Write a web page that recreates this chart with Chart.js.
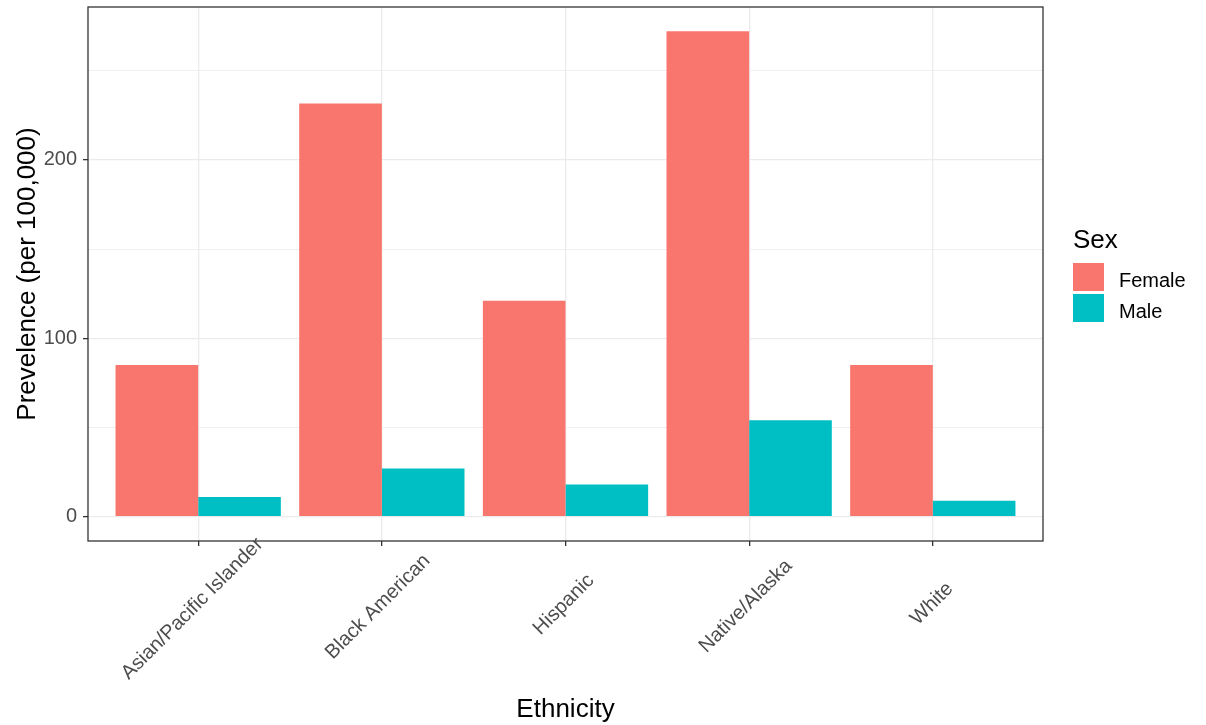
<!DOCTYPE html>
<html>
<head>
<meta charset="utf-8">
<script src="https://cdn.jsdelivr.net/npm/chart.js@4.4.1/dist/chart.umd.min.js"></script>
<style>
  html, body { margin: 0; padding: 0; background: #ffffff; }
  #c { display: block; }
</style>
</head>
<body>
<canvas id="c" width="1206" height="725"></canvas>
<script>
// ---- data ----
const categories = ["Asian/Pacific Islander", "Black American", "Hispanic", "Native/Alaska", "White"];
const femaleValues = [85, 231.5, 121, 272, 85];
const maleValues = [11, 27, 18, 54, 9];
const seriesNames = ["Female", "Male"];
const yTickValues = [0, 50, 100, 150, 200, 250];
const yLabelValues = [0, 100, 200];

const FONT = "'Liberation Sans', Arial, Helvetica, sans-serif";
const colors = ["#F8766D", "#00BFC4"];

const yMax = Math.max(...femaleValues, ...maleValues);
const yPad = yMax * 0.05;

const canvas = document.getElementById('c');

const customPlugin = {
  id: 'ggExtras',
  afterDraw(chart) {
    const ctx = chart.ctx;
    const a = chart.chartArea;
    const xs = chart.scales.x;
    // panel border
    ctx.save();
    ctx.strokeStyle = '#333333';
    ctx.lineWidth = 1.3;
    ctx.strokeRect(a.left, a.top, a.right - a.left, a.bottom - a.top);
    ctx.restore();

    // rotated x labels
    ctx.save();
    ctx.font = '20px ' + FONT;
    ctx.fillStyle = '#4D4D4D';
    ctx.textBaseline = 'middle';
    ctx.textAlign = 'left';
    categories.forEach((c, i) => {
      const px = xs.getPixelForValue(i);
      const w = ctx.measureText(c).width;
      ctx.save();
      ctx.translate(px + 1, a.bottom + 61);
      ctx.rotate(-Math.PI / 4);
      ctx.fillText(c, -0.55 * w, 0);
      ctx.restore();
    });
    ctx.restore();

    // legend
    ctx.save();
    const lx = a.right + 30;
    ctx.fillStyle = '#000000';
    ctx.font = '26px ' + FONT;
    ctx.textBaseline = 'alphabetic';
    ctx.textAlign = 'left';
    ctx.fillText('Sex', lx, 248);
    chart.data.datasets.forEach((ds, i) => {
      const ky = 263 + i * 31;
      ctx.fillStyle = ds.backgroundColor;
      ctx.fillRect(lx, ky, 31, 28);
      ctx.fillStyle = '#000000';
      ctx.font = '20px ' + FONT;
      ctx.fillText(ds.label, lx + 46, ky + 24);
    });
    ctx.restore();
  }
};

new Chart(canvas, {
  type: 'bar',
  data: {
    datasets: [
      {
        label: seriesNames[0],
        data: categories.map((c, i) => ({ x: i, y: femaleValues[i] })),
        backgroundColor: colors[0],
        borderWidth: 0
      },
      {
        label: seriesNames[1],
        data: categories.map((c, i) => ({ x: i, y: maleValues[i] })),
        backgroundColor: colors[1],
        borderWidth: 0
      }
    ]
  },
  options: {
    responsive: false,
    animation: false,
    events: [],
    layout: { padding: { left: 0, top: 7, right: 163, bottom: 0 } },
    datasets: { bar: { categoryPercentage: 0.9, barPercentage: 1.0 } },
    plugins: {
      legend: { display: false },
      tooltip: { enabled: false },
      title: { display: false }
    },
    scales: {
      x: {
        type: 'linear',
        offset: false,
        min: -0.6,
        max: categories.length - 1 + 0.6,
        afterBuildTicks: (axis) => { axis.ticks = categories.map((c, i) => ({ value: i })); },
        afterFit: (axis) => { axis.height = 184; axis.paddingLeft = 0; axis.paddingRight = 0; },
        ticks: { display: false },
        grid: {
          offset: false,
          color: '#EBEBEB',
          lineWidth: 1.3,
          drawTicks: true,
          tickLength: 5,
          tickColor: '#333333',
          tickWidth: 1.3
        },
        border: { display: false },
        title: {
          display: true,
          text: 'Ethnicity',
          color: '#000000',
          font: { family: FONT, size: 26, lineHeight: 1.2 },
          padding: { top: 0, bottom: 0 }
        }
      },
      y: {
        type: 'linear',
        min: -yPad,
        max: yMax + yPad,
        afterBuildTicks: (axis) => { axis.ticks = yTickValues.map(v => ({ value: v })); },
        afterFit: (axis) => { axis.width = 88; axis.paddingTop = 0; axis.paddingBottom = 0; },
        ticks: {
          color: '#4D4D4D',
          font: { family: FONT, size: 20 },
          padding: 6,
          callback: (v) => (yLabelValues.includes(v) ? String(v) : '')
        },
        grid: {
          color: '#EBEBEB',
          lineWidth: (ctx) => (ctx.tick && yLabelValues.includes(ctx.tick.value) ? 1.3 : 0.8),
          drawTicks: true,
          tickLength: 5,
          tickColor: (ctx) => (ctx.tick && yLabelValues.includes(ctx.tick.value) ? '#333333' : 'rgba(0,0,0,0)'),
          tickWidth: 1.3
        },
        border: { display: false },
        title: {
          display: true,
          text: 'Prevelence (per 100,000)',
          color: '#000000',
          font: { family: FONT, size: 26, lineHeight: 1.2 },
          padding: { top: 12, bottom: 0 }
        }
      }
    }
  },
  plugins: [customPlugin]
});
</script>
</body>
</html>
